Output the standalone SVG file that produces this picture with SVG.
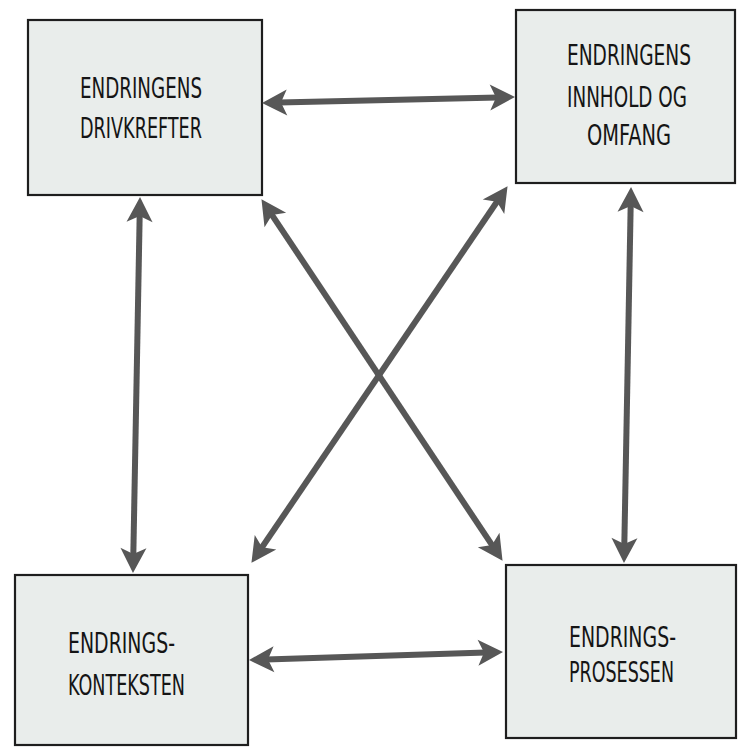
<svg xmlns="http://www.w3.org/2000/svg" width="738" height="749" viewBox="0 0 738 749">
<style>
.box{fill:#e9edeb;stroke:#1e1e1e;stroke-width:2.2}
.lbl{font-family:"DejaVu Sans Condensed","Liberation Sans",sans-serif;font-size:28px;fill:#151515}
.c{text-anchor:middle}
.arr{stroke:#575757;stroke-width:6;fill:none;marker-start:url(#ah);marker-end:url(#ah)}
</style>
<defs>
<marker id="ah" markerUnits="userSpaceOnUse" markerWidth="60" markerHeight="60" refX="0" refY="0" orient="auto-start-reverse" overflow="visible">
<path d="M17,0 L-8,-13 L-2,0 L-8,13 Z" fill="#575757"/>
</marker>
</defs>
<rect width="738" height="749" fill="#ffffff"/>
<g id="node-drivkrefter">
<rect class="box" x="28" y="20" width="234" height="175"/>
<text class="lbl c" x="141" y="98" textLength="122" lengthAdjust="spacingAndGlyphs">ENDRINGENS</text>
<text class="lbl c" x="141" y="138" textLength="122" lengthAdjust="spacingAndGlyphs">DRIVKREFTER</text>
</g>
<g id="node-innhold">
<rect class="box" x="516" y="10" width="219" height="173"/>
<text class="lbl c" x="629" y="65" textLength="124" lengthAdjust="spacingAndGlyphs">ENDRINGENS</text>
<text class="lbl c" x="627" y="107" textLength="120" lengthAdjust="spacingAndGlyphs">INNHOLD OG</text>
<text class="lbl c" x="629" y="145" textLength="84" lengthAdjust="spacingAndGlyphs">OMFANG</text>
</g>
<g id="node-konteksten">
<rect class="box" x="15" y="575" width="233" height="170"/>
<text class="lbl" x="68" y="653" textLength="107" lengthAdjust="spacingAndGlyphs">ENDRINGS-</text>
<text class="lbl" x="68" y="695" textLength="117" lengthAdjust="spacingAndGlyphs">KONTEKSTEN</text>
</g>
<g id="node-prosessen">
<rect class="box" x="506" y="565" width="230" height="173"/>
<text class="lbl" x="569" y="647" textLength="107" lengthAdjust="spacingAndGlyphs">ENDRINGS-</text>
<text class="lbl" x="569" y="682" textLength="105" lengthAdjust="spacingAndGlyphs">PROSESSEN</text>
</g>
<g id="connectors">
<line class="arr" x1="279" y1="102.6" x2="498" y2="97.4"/>
<line class="arr" x1="139.7" y1="214" x2="133.3" y2="556"/>
<line class="arr" x1="630.7" y1="204" x2="624.3" y2="546"/>
<line class="arr" x1="266" y1="659.5" x2="486" y2="652.5"/>
<line class="arr" x1="270.9" y1="213.3" x2="493.1" y2="546.7"/>
<line class="arr" x1="498" y1="200.2" x2="261" y2="548.8"/>
</g>
</svg>
